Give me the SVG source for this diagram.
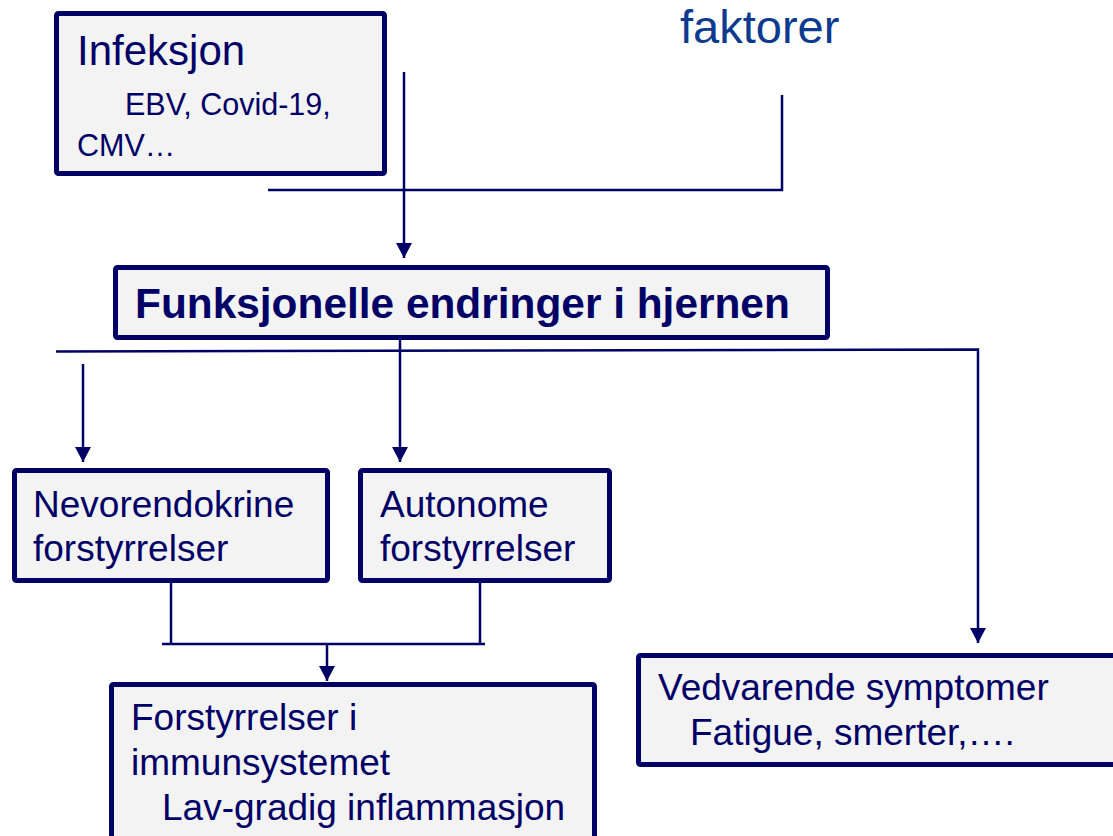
<svg xmlns="http://www.w3.org/2000/svg" width="1113" height="836" viewBox="0 0 1113 836">
  <style>
    .box { fill: #F3F3F3; stroke: #000066; stroke-width: 5; }
    .t { font-family: "Liberation Sans", Arial, sans-serif; fill: #000066; }
    .body { font-size: 37px; }
    .conn { fill: none; stroke: #000066; stroke-width: 2.5; }
  </style>
  <defs>
    <marker id="arrow" markerUnits="userSpaceOnUse" markerWidth="16" markerHeight="16" refX="15" refY="8" orient="auto">
      <path d="M0,0 L15,8 L0,16 z" fill="#000066"/>
    </marker>
  </defs>
  <rect width="1113" height="836" fill="#FFFFFF"/>

  <g id="connectors">
    <polyline class="conn" points="268,190 782,190 782,95"/>
    <line class="conn" x1="404" y1="72" x2="404" y2="258" marker-end="url(#arrow)"/>
    <polyline class="conn" points="56,351.5 978,349.5 978,643" marker-end="url(#arrow)"/>
    <line class="conn" x1="83" y1="364" x2="83" y2="462" marker-end="url(#arrow)"/>
    <line class="conn" x1="400" y1="333" x2="400" y2="462" marker-end="url(#arrow)"/>
    <line class="conn" x1="171" y1="583" x2="171" y2="644"/>
    <line class="conn" x1="480" y1="582" x2="480" y2="644"/>
    <line class="conn" x1="162" y1="644" x2="485" y2="644"/>
    <line class="conn" x1="327" y1="644" x2="327" y2="681" marker-end="url(#arrow)"/>
  </g>

  <g id="infeksjon">
    <rect class="box" x="56.5" y="13.5" width="328" height="160" rx="2"/>
    <text class="t" x="77" y="65" font-size="42">Infeksjon</text>
    <text class="t" x="125" y="115" font-size="30.5">EBV, Covid-19,</text>
    <text class="t" x="77" y="156" font-size="30.5">CMV…</text>
  </g>

  <g id="faktorer">
    <text x="680" y="43" font-family="Liberation Sans, Arial, sans-serif" font-size="47" fill="#0B3A8F">faktorer</text>
  </g>

  <g id="funksjonelle">
    <rect class="box" x="115.5" y="267.5" width="712" height="70" rx="2"/>
    <text class="t" x="135" y="318" font-size="42.4" font-weight="bold">Funksjonelle endringer i hjernen</text>
  </g>

  <g id="nevorendokrine">
    <rect class="box" x="14.5" y="470.5" width="313" height="110" rx="2"/>
    <text class="t body" x="33" y="517">Nevorendokrine</text>
    <text class="t body" x="33" y="561">forstyrrelser</text>
  </g>

  <g id="autonome">
    <rect class="box" x="360.5" y="470.5" width="249" height="110" rx="2"/>
    <text class="t body" x="380" y="517">Autonome</text>
    <text class="t body" x="380" y="561">forstyrrelser</text>
  </g>

  <g id="immunsystemet">
    <rect class="box" x="111.5" y="684.5" width="483" height="200" rx="2"/>
    <text class="t body" x="131" y="730">Forstyrrelser i</text>
    <text class="t body" x="131" y="775">immunsystemet</text>
    <text class="t body" x="162" y="820">Lav-gradig inflammasjon</text>
  </g>

  <g id="vedvarende">
    <rect class="box" x="638.5" y="655.5" width="500" height="109" rx="2"/>
    <text class="t body" x="658" y="700">Vedvarende symptomer</text>
    <text class="t body" x="690" y="745">Fatigue, smerter,….</text>
  </g>
</svg>
